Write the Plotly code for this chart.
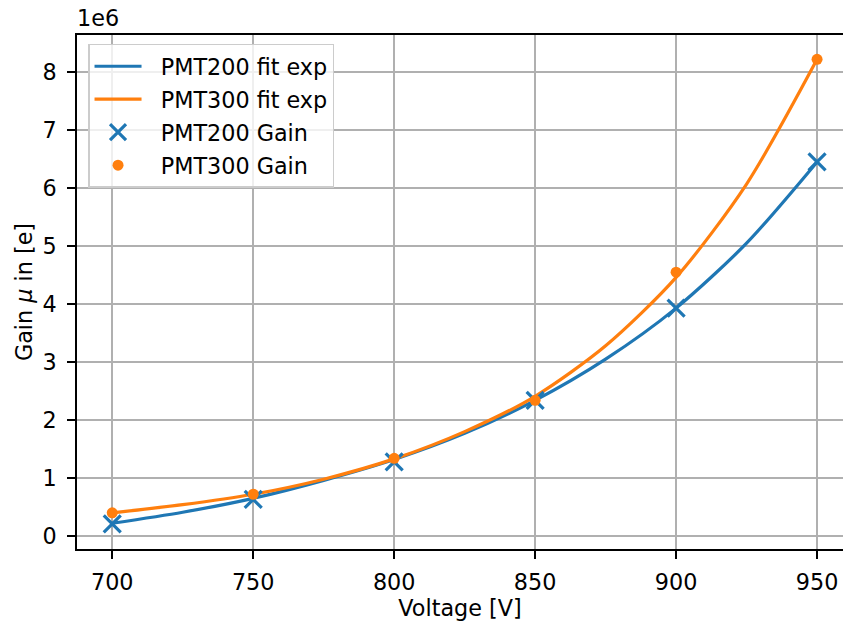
import plotly.graph_objects as go

# Measured data (gain in units of 1e6 electrons)
voltage = [700, 750, 800, 850, 900, 950]
gain_pmt200 = [0.21, 0.63, 1.28, 2.34, 3.93, 6.45]
gain_pmt300 = [0.40, 0.72, 1.34, 2.34, 4.55, 8.22]

# Fit curves
fit_voltage = [700, 725, 750, 775, 800, 825, 850, 875, 900, 925, 950]
fit_pmt200 = [0.22, 0.41, 0.65, 0.96, 1.32, 1.77, 2.34, 3.05, 3.93, 5.05, 6.45]
fit_pmt300 = [0.40, 0.54, 0.72, 0.98, 1.33, 1.80, 2.41, 3.28, 4.46, 6.07, 8.22]

x_ticks = [700, 750, 800, 850, 900, 950]
y_ticks = [0, 1, 2, 3, 4, 5, 6, 7, 8]

BLUE = "#1f77b4"
ORANGE = "#ff7f0e"
FONT = "DejaVu Sans"
FS = 22.3

fig = go.Figure()
fig.add_trace(go.Scatter(x=fit_voltage, y=fit_pmt200, mode="lines", name="&nbsp;&nbsp;PMT200 fit exp",
                         line=dict(color=BLUE, width=3.2, shape="spline", smoothing=0.8),
                         legendgroup="a"))
fig.add_trace(go.Scatter(x=fit_voltage, y=fit_pmt300, mode="lines", name="&nbsp;&nbsp;PMT300 fit exp",
                         line=dict(color=ORANGE, width=3.2, shape="spline", smoothing=0.8),
                         legendgroup="b"))
fig.add_trace(go.Scatter(x=voltage, y=gain_pmt200, mode="markers", name="&nbsp;&nbsp;PMT200 Gain",
                         marker=dict(symbol="x-thin", size=17, color=BLUE,
                                     line=dict(color=BLUE, width=3.2)),
                         legendgroup="c"))
fig.add_trace(go.Scatter(x=voltage, y=gain_pmt300, mode="markers", name="&nbsp;&nbsp;PMT300 Gain",
                         marker=dict(symbol="circle", size=11, color=ORANGE),
                         legendgroup="d"))

axis_common = dict(
    showgrid=True, gridcolor="#b0b0b0", gridwidth=1.8,
    showline=True, linecolor="black", linewidth=1.8,
    ticks="outside", ticklen=8, tickwidth=1.8, tickcolor="black",
    tickfont=dict(family=FONT, size=FS, color="black"),
    zeroline=False,
)

fig.update_xaxes(range=[687.5, 959.2], tickvals=x_ticks, mirror=True, ticklabelstandoff=4,
                 title=dict(text="Voltage [V]", font=dict(family=FONT, size=FS, color="black"),
                            standoff=6),
                 **axis_common)
fig.update_yaxes(range=[-0.224, 8.64], tickvals=y_ticks, ticklabelstandoff=6,
                 title=dict(text="Gain <i>μ</i> in [e]", font=dict(family=FONT, size=FS, color="black"),
                            standoff=4),
                 **axis_common)

fig.add_annotation(text="1e6", xref="paper", yref="paper", x=0, y=1, xanchor="left",
                   yanchor="bottom", yshift=2, xshift=-2, showarrow=False,
                   font=dict(family=FONT, size=FS, color="black"))

fig.update_layout(
    width=843, height=621,
    margin=dict(l=77, r=0, t=35, b=72),
    plot_bgcolor="white", paper_bgcolor="white",
    font=dict(family=FONT, size=FS, color="black"),
    legend=dict(x=0.0144, y=0.983, xanchor="left", yanchor="top",
                bgcolor="rgba(255,255,255,0.8)", bordercolor="#cccccc", borderwidth=1.5,
                font=dict(family=FONT, size=FS, color="black"),
                tracegroupgap=1, itemwidth=47, traceorder="grouped"),
    showlegend=True,
)

fig.write_html("out.html")
